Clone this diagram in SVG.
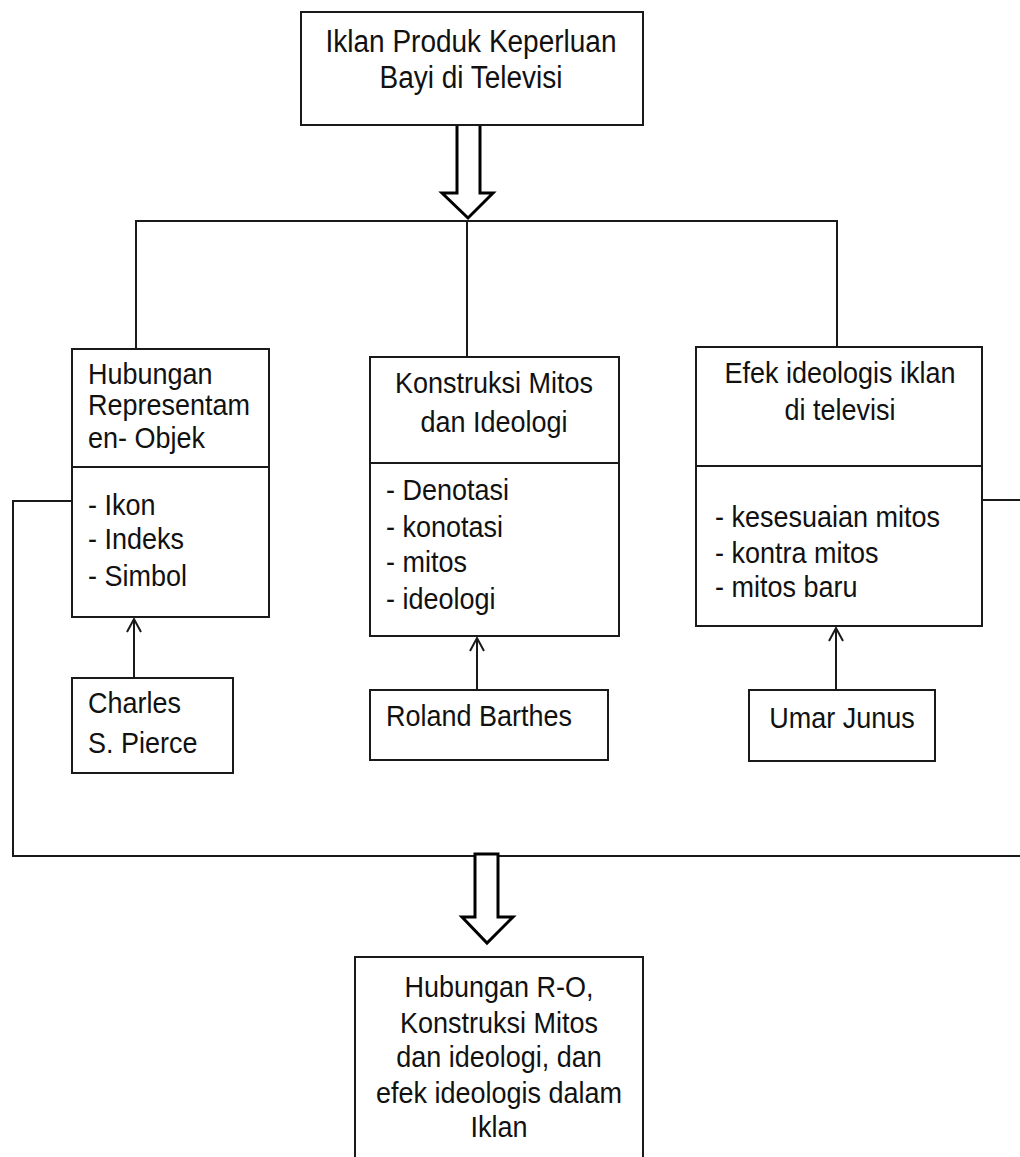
<svg xmlns="http://www.w3.org/2000/svg" width="1020" height="1157" viewBox="0 0 1020 1157">
<defs>
<style>
.box{fill:#fff;stroke:#1a1a1a;stroke-width:2}
.ln{fill:none;stroke:#1a1a1a;stroke-width:2}
.hollow{fill:#fff;stroke:#000;stroke-width:3;stroke-linejoin:miter}
text{font-family:"Liberation Sans",Arial,sans-serif;font-size:27px;fill:#111}
.c{text-anchor:middle}
</style>
</defs>
<rect width="1020" height="1157" fill="#fff"/>

<g id="connectors">
<path class="ln" d="M136,349 V221 H837 V347"/>
<path class="ln" d="M467,221 V357"/>
<path class="ln" d="M72,501 H13 V856 H1020"/>
<path class="ln" d="M982,500 H1020"/>
<path class="ln" d="M134,678 V619 M127,632 L134,619 L141,632"/>
<path class="ln" d="M477,690 V638 M470,651 L477,638 L484,651"/>
<path class="ln" d="M836,690 V628 M829,641 L836,628 L843,641"/>
<path class="hollow" d="M457,124 H480 V193 H493 L468,218 L442,193 H457 Z"/>
<path class="hollow" d="M475,854 H498 V917 H513 L487,943 L462,917 H475 Z"/>
</g>

<g id="top">
<rect class="box" x="301" y="12" width="342" height="113"/>
<text class="c" transform="matrix(1,0,0,1.1,471,52)" style="font-size:28px">Iklan Produk Keperluan</text>
<text class="c" transform="matrix(1,0,0,1.1,471,88)" style="font-size:28px">Bayi di Televisi</text>
</g>

<g id="hubungan">
<rect class="box" x="72" y="349" width="197" height="268"/>
<line class="ln" x1="72" y1="467" x2="269" y2="467"/>
<text transform="matrix(1,0,0,1.1,88,384)">Hubungan</text>
<text transform="matrix(1,0,0,1.1,88,415)">Representam</text>
<text transform="matrix(1,0,0,1.1,88,448)">en- Objek</text>
<text transform="matrix(1,0,0,1.1,88,515)">- Ikon</text>
<text transform="matrix(1,0,0,1.1,88,549)">- Indeks</text>
<text transform="matrix(1,0,0,1.1,88,586)">- Simbol</text>
</g>

<g id="konstruksi">
<rect class="box" x="370" y="357" width="249" height="279"/>
<line class="ln" x1="370" y1="463" x2="619" y2="463"/>
<text class="c" transform="matrix(1,0,0,1.1,494,393)">Konstruksi Mitos</text>
<text class="c" transform="matrix(1,0,0,1.1,494,432)">dan Ideologi</text>
<text transform="matrix(1,0,0,1.1,386,500)">- Denotasi</text>
<text transform="matrix(1,0,0,1.1,386,537)">- konotasi</text>
<text transform="matrix(1,0,0,1.1,386,572)">- mitos</text>
<text transform="matrix(1,0,0,1.1,386,609)">- ideologi</text>
</g>

<g id="efek">
<rect class="box" x="696" y="347" width="286" height="279"/>
<line class="ln" x1="696" y1="466" x2="982" y2="466"/>
<text class="c" transform="matrix(1,0,0,1.1,840,383)">Efek ideologis iklan</text>
<text class="c" transform="matrix(1,0,0,1.1,840,420)">di televisi</text>
<text transform="matrix(1,0,0,1.1,715,527)">- kesesuaian mitos</text>
<text transform="matrix(1,0,0,1.1,715,563)">- kontra mitos</text>
<text transform="matrix(1,0,0,1.1,715,597)">- mitos baru</text>
</g>

<g id="charles">
<rect class="box" x="72" y="678" width="161" height="95"/>
<text transform="matrix(1,0,0,1.1,88,713)">Charles</text>
<text transform="matrix(1,0,0,1.1,88,753)">S. Pierce</text>
</g>

<g id="roland">
<rect class="box" x="370" y="690" width="238" height="70"/>
<text transform="matrix(1,0,0,1.1,386,726)">Roland Barthes</text>
</g>

<g id="umar">
<rect class="box" x="749" y="690" width="186" height="71"/>
<text class="c" transform="matrix(1,0,0,1.1,842,728)">Umar Junus</text>
</g>

<g id="hasil">
<rect class="box" x="355" y="957" width="288" height="220"/>
<text class="c" transform="matrix(1,0,0,1.1,499,997)">Hubungan R-O,</text>
<text class="c" transform="matrix(1,0,0,1.1,499,1033)">Konstruksi Mitos</text>
<text class="c" transform="matrix(1,0,0,1.1,499,1067)">dan ideologi, dan</text>
<text class="c" transform="matrix(1,0,0,1.1,499,1103)">efek ideologis dalam</text>
<text class="c" transform="matrix(1,0,0,1.1,499,1137)">Iklan</text>
</g>
</svg>
